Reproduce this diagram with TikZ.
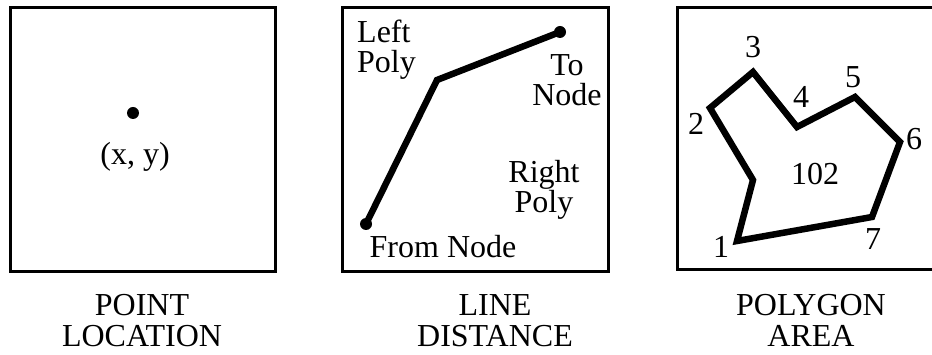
\documentclass[tikz,border=0pt]{standalone}
\usepackage{fontspec}
\setmainfont{Liberation Serif}
\usetikzlibrary{positioning,calc}

\begin{document}
\begin{tikzpicture}[
        x=1pt, y=-1pt,
        panel/.style={draw, line width=3pt},
        heavy/.style={line width=6.5pt, line join=miter},
        blob/.style={circle, fill, inner sep=0pt, minimum size=12pt},
        lbl/.style={inner sep=0pt, font=\fontsize{32}{30}\selectfont},
        caption/.style={lbl, align=center, font=\fontsize{32}{31}\selectfont}
    ]

        % --- MARCO ---
        \useasboundingbox (0,0) rectangle (932,355);
        \clip (0,0) rectangle (932,355);

        % --- PUNTO ---
        \draw[panel] (10,8) rectangle (275,272);
        \coordinate (P) at (133,113);
        \node[blob] (dotP) at (P) {};
        \node[lbl, anchor=base] (xy) at (135,165) {(x, y)};
        \node[caption, anchor=base] (capP) at (142,347) {POINT\\LOCATION};

        % --- LINEA ---
        \draw[panel] (342,8) rectangle (608,272);
        \coordinate (From) at (366,224);
        \coordinate (Bend) at (437,80);
        \coordinate (To) at (560,32);
        \draw[heavy] (From) -- (Bend) -- (To);
        \node[blob] (dotFrom) at (From) {};
        \node[blob] (dotTo) at (To) {};
        \node[lbl, anchor=base west, align=left] (left) at (357,73) {Left\\Poly};
        \node[lbl, anchor=base, align=center] (tonode) at (567,106) {To\\Node};
        \node[lbl, anchor=base, align=center] (right) at (544,213) {Right\\Poly};
        \node[lbl, anchor=base] (fromnode) at (443,258) {From Node};
        \node[caption, anchor=base] (capL) at (495,347) {LINE\\DISTANCE};

        % --- POLIGONO ---
        \draw[panel] (677,8) rectangle (945,270);
        \coordinate (v1) at (737,241);
        \coordinate (v2) at (710,108);
        \coordinate (v3) at (753,72);
        \coordinate (v4) at (797,127);
        \coordinate (v5) at (855,97);
        \coordinate (v6) at (900,142);
        \coordinate (v7) at (872,217);
        \coordinate (vk) at (753,180);
        \draw[heavy] (v1) -- (vk) -- (v2) -- (v3) -- (v4) -- (v5) -- (v6) -- (v7) -- cycle;
        \node[lbl, anchor=base] (n1) at (721,258) {1};
        \node[lbl, anchor=base] (n2) at (696,135) {2};
        \node[lbl, anchor=base] (n3) at (753,58) {3};
        \node[lbl, anchor=base] (n4) at (801,108) {4};
        \node[lbl, anchor=base] (n5) at (853,88) {5};
        \node[lbl, anchor=base] (n6) at (914,150) {6};
        \node[lbl, anchor=base] (n7) at (873,250) {7};
        \node[lbl, anchor=base] (area) at (815,185) {102};
        \node[caption, anchor=base] (capA) at (811,347) {POLYGON\\AREA};

    \end{tikzpicture}
\end{document}
